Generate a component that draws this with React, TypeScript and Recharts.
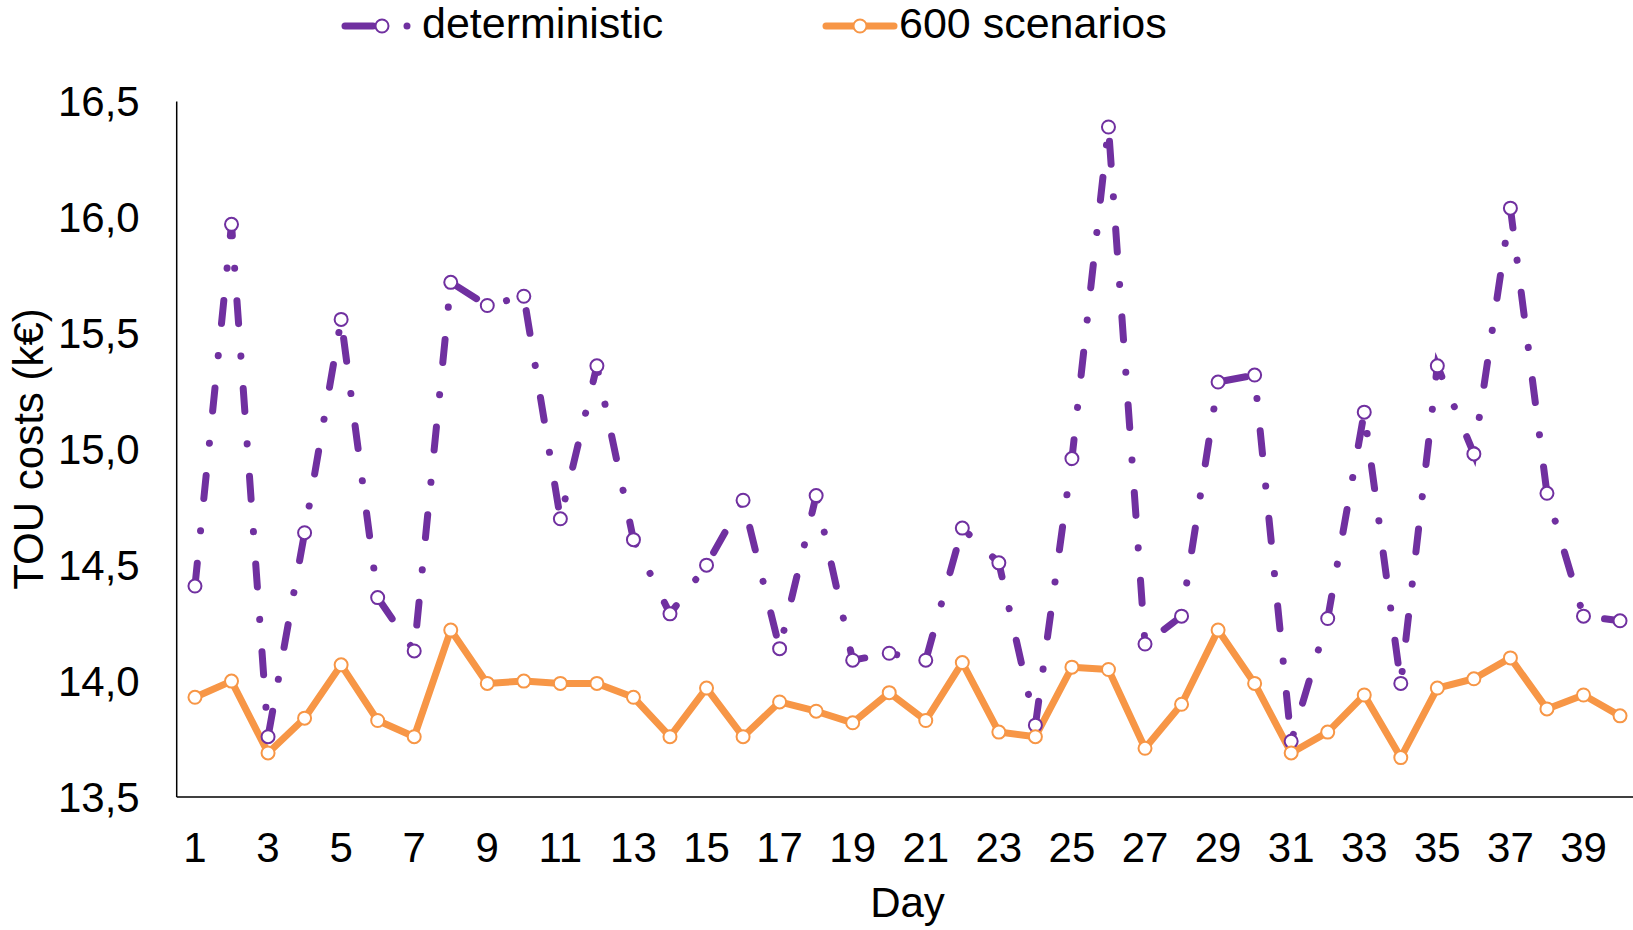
import React from 'react';
import { LineChart, Line, XAxis, YAxis, Legend, Label } from 'recharts';

const days = [
  '1', '2', '3', '4', '5', '6', '7', '8', '9', '10',
  '11', '12', '13', '14', '15', '16', '17', '18', '19', '20',
  '21', '22', '23', '24', '25', '26', '27', '28', '29', '30',
  '31', '32', '33', '34', '35', '36', '37', '38', '39', '40',
];

const deterministic = [
  14.41, 15.97, 13.76, 14.64, 15.56, 14.36, 14.13, 15.72, 15.62, 15.66,
  14.70, 15.36, 14.61, 14.29, 14.50, 14.78, 14.14, 14.80, 14.09, 14.12,
  14.09, 14.66, 14.51, 13.81, 14.96, 16.39, 14.16, 14.28, 15.29, 15.32,
  13.74, 14.27, 15.16, 13.99, 15.36, 14.98, 16.04, 14.81, 14.28, 14.26,
];

const scenarios600 = [
  13.93, 14.00, 13.69, 13.84, 14.07, 13.83, 13.76, 14.22, 13.99, 14.00,
  13.99, 13.99, 13.93, 13.76, 13.97, 13.76, 13.91, 13.87, 13.82, 13.95,
  13.83, 14.08, 13.78, 13.76, 14.06, 14.05, 13.71, 13.90, 14.22, 13.99,
  13.69, 13.78, 13.94, 13.67, 13.97, 14.01, 14.10, 13.88, 13.94, 13.85,
];

const yTicks = [13.5, 14.0, 14.5, 15.0, 15.5, 16.0, 16.5];

const seriesNames = ['deterministic', '600 scenarios'];

const data = days.map((d, i) => ({
  day: d,
  det: deterministic[i],
  sc: scenarios600[i],
}));

const PURPLE = '#7030A0';
const ORANGE = '#F79646';
const FONT = "'Liberation Sans', Arial, sans-serif";

const renderLegend = () => (
  <svg width={1633} height={60} style={{ display: 'block' }}>
    <line x1={345} y1={26} x2={373} y2={26} stroke={PURPLE} strokeWidth={7} strokeLinecap="round" />
    <circle cx={382} cy={26} r={6.5} fill="#fff" stroke={PURPLE} strokeWidth={2} />
    <circle cx={407} cy={26} r={3.5} fill={PURPLE} />
    <text x={422} y={38} fontSize={43} fontFamily={FONT} fill="#000">{seriesNames[0]}</text>
    <line x1={826} y1={26} x2={894} y2={26} stroke={ORANGE} strokeWidth={7} strokeLinecap="round" />
    <circle cx={860} cy={26} r={6.5} fill="#fff" stroke={ORANGE} strokeWidth={2} />
    <text x={899} y={38} fontSize={43} fontFamily={FONT} fill="#000">{seriesNames[1]}</text>
  </svg>
);

export default function App() {
  return (
    <div
      style={{
        position: 'fixed',
        left: 0,
        top: 0,
        width: 1633,
        height: 930,
        overflow: 'hidden',
        background: '#fff',
        fontFamily: FONT,
      }}
    >
      <LineChart
        width={1700}
        height={930}
        data={data}
        margin={{ top: 101.5, right: 61.7, bottom: 0, left: 0 }}
      >
        <XAxis
          dataKey="day"
          interval={1}
          padding={{ left: 18.27, right: 18.27 }}
          tickLine={false}
          tickSize={0}
          tickMargin={35}
          height={133}
          axisLine={{ stroke: '#404040', strokeWidth: 2 }}
          tick={{ fontSize: 42, fill: '#000', fontFamily: FONT }}
        >
          <Label
            content={() => (
              <text x={907.5} y={917} textAnchor="middle" fontSize={42} fontFamily={FONT} fill="#000">
                Day
              </text>
            )}
          />
        </XAxis>
        <YAxis
          type="number"
          domain={[13.5, 16.5]}
          ticks={yTicks}
          interval={0}
          width={176.7}
          tickLine={false}
          tickSize={0}
          tickMargin={37}
          axisLine={{ stroke: '#000', strokeWidth: 1.5 }}
          tick={{ fontSize: 42, fill: '#000', fontFamily: FONT }}
          tickFormatter={(v: number) => v.toFixed(1).replace('.', ',')}
        >
          <Label
            content={() => (
              <text
                x={28}
                y={449}
                transform="rotate(-90, 28, 449)"
                textAnchor="middle"
                dominantBaseline="central"
                fontSize={42}
                fontFamily={FONT}
                fill="#000"
              >
                TOU costs (k€)
              </text>
            )}
          />
        </YAxis>
        <Legend
          layout="horizontal"
          verticalAlign="middle"
          align="center"
          wrapperStyle={{ position: 'absolute', left: 0, top: 0, width: 1633, height: 60 }}
          content={renderLegend}
        />
        <Line
          type="linear"
          dataKey="det"
          name={seriesNames[0]}
          stroke={PURPLE}
          strokeWidth={7}
          strokeDasharray="23 32.5 0.1 32.4"
          strokeLinecap="round"
          dot={{ r: 6.5, fill: '#fff', stroke: PURPLE, strokeWidth: 2, strokeDasharray: 'none' }}
          isAnimationActive={false}
        />
        <Line
          type="linear"
          dataKey="sc"
          name={seriesNames[1]}
          stroke={ORANGE}
          strokeWidth={7}
          strokeLinejoin="round"
          dot={{ r: 6.5, fill: '#fff', stroke: ORANGE, strokeWidth: 2 }}
          isAnimationActive={false}
        />
      </LineChart>
    </div>
  );
}
